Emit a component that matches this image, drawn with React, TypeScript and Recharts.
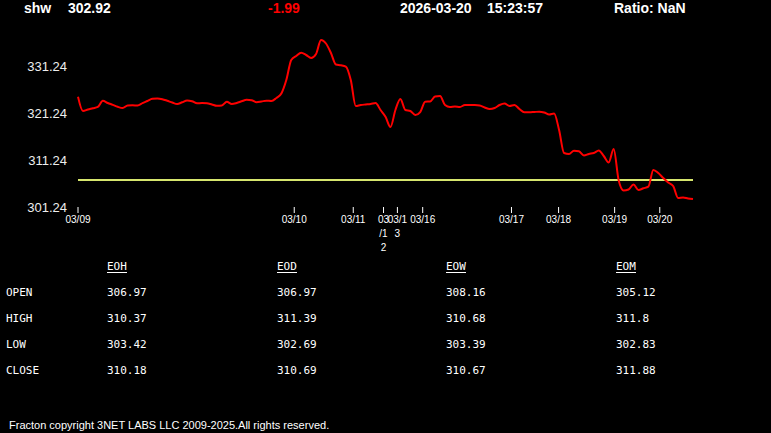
import React from 'react';
import { LineChart, Line, XAxis, YAxis, ReferenceLine } from 'recharts';

// last price, change, timestamp shown in the header
const symbol = 'shw';
const lastPrice = '302.92';
const change = '-1.99';
const stamp = ['2026-03-20', '15:23:57'];
const ratio = 'Ratio: NaN';

// intraday prices, one sample per step (trading days 03/09 .. 03/20)
const prices = [
  324.71, 321.67, 321.98, 322.24, 322.52, 323.84, 323.37, 322.98, 322.56, 322.3,
  322.84, 322.88, 322.84, 323.33, 323.79, 324.26, 324.33, 324.18, 323.84, 323.47,
  323.15, 323.52, 323.9, 323.73, 323.3, 323.37, 323.33, 323.05, 322.77, 322.84,
  323.62, 323.15, 323.37, 323.73, 324.05, 323.96, 323.54, 323.69, 323.86, 323.79,
  324.43, 325.39, 328.26, 332.52, 333.37, 334.07, 333.58, 332.94, 333.79, 336.77,
  336.03, 334.01, 331.56, 331.41, 331.13, 328.26, 322.73, 322.94, 323.05, 323.15,
  323.37, 321.88, 320.45, 318.26, 321.88, 324.22, 321.88, 321.67, 320.81, 321.45,
  323.64, 323.69, 324.75, 324.86, 322.94, 322.52, 322.62, 322.52, 322.94, 322.94,
  322.94, 322.84, 322.41, 322.09, 322.3, 322.94, 323.26, 322.73, 322.94, 322.09,
  321.39, 321.39, 321.45, 321.52, 321.35, 320.92, 321.13, 317.62, 312.73, 312.52,
  313.22, 313.09, 312.2, 312.52, 312.73, 313.26, 312.09, 310.71, 313.58, 306.98,
  304.75, 304.96, 306.03, 304.86, 305.22, 305.56, 309.11, 308.47, 307.41, 306.45,
  305.71, 303.15, 303.26, 303.05, 302.92,
];

// where each trading day opens, in sample units, and its (wrapped) label
const dayTicks = [0, 43.6, 55.5, 61.6, 64.4, 69.5, 87.4, 96.9, 108.2, 117.3];
const dayLabels = [
  ['03/09'], ['03/10'], ['03/11'], ['03', '/1', '2'], ['03/1', '3'],
  ['03/16'], ['03/17'], ['03/18'], ['03/19'], ['03/20'],
];

const priceTicks = [301.24, 311.24, 321.24, 331.24];
const openLevel = 306.97;

const columns = ['EOH', 'EOD', 'EOW', 'EOM'];
const rowNames = ['OPEN', 'HIGH', 'LOW', 'CLOSE'];
const eoh = ['306.97', '310.37', '303.42', '310.18'];
const eod = ['306.97', '311.39', '302.69', '310.69'];
const eow = ['308.16', '310.68', '303.39', '310.67'];
const eom = ['305.12', '311.8', '302.83', '311.88'];
const columnValues = [eoh, eod, eow, eom];

const data = prices.map((p, i) => ({ i, price: p }));

const DayTick = (props: any) => {
  const { x, y, payload } = props;
  const lines = dayLabels[dayTicks.indexOf(payload.value)] || [];
  return (
    <text x={x} y={y} textAnchor="middle" fill="#fff" fontSize={10} fontFamily="Liberation Sans, Arial, sans-serif">
      {lines.map((l, k) => (
        <tspan key={k} x={x} dy={k === 0 ? 8 : 14}>{l}</tspan>
      ))}
    </text>
  );
};

const headStyle: React.CSSProperties = {
  position: 'absolute',
  top: 0,
  fontFamily: 'Liberation Sans, Arial, sans-serif',
  fontWeight: 'bold',
  fontSize: 14,
  lineHeight: '16px',
  color: '#fff',
  whiteSpace: 'nowrap',
};

const mono: React.CSSProperties = {
  position: 'absolute',
  fontFamily: 'DejaVu Sans Mono, monospace',
  fontSize: 11,
  lineHeight: '12px',
  color: '#fff',
  whiteSpace: 'nowrap',
};

const colX = [107, 277, 446, 616];
const rowY = [287, 313, 339, 365];

export default function App() {
  return (
    <div style={{ position: 'absolute', left: 0, top: 0, width: 771, height: 433, background: '#000', overflow: 'hidden' }}>
      <div style={{ ...headStyle, left: 24 }}>{symbol}</div>
      <div style={{ ...headStyle, left: 68 }}>{lastPrice}</div>
      <div style={{ ...headStyle, left: 268, color: '#f00' }}>{change}</div>
      <div style={{ ...headStyle, left: 400 }}>{stamp[0]}</div>
      <div style={{ ...headStyle, left: 487 }}>{stamp[1]}</div>
      <div style={{ ...headStyle, left: 614 }}>{ratio}</div>

      <div style={{ position: 'absolute', left: 0, top: 0 }}>
        <LineChart width={771} height={260} data={data} margin={{ top: 19, right: 78, bottom: 13, left: 0 }}>
          <XAxis
            dataKey="i"
            type="number"
            domain={[0, prices.length - 1]}
            ticks={dayTicks}
            interval={0}
            axisLine={false}
            tickLine={{ stroke: '#fff' }}
            tickSize={6}
            tickMargin={2}
            height={40}
            tick={<DayTick />}
          />
          <YAxis
            type="number"
            domain={[301.24, 341.24]}
            ticks={priceTicks}
            interval={0}
            width={78}
            axisLine={false}
            tickLine={false}
            tickSize={0}
            tickMargin={11}
            tick={{ fill: '#eee', fontSize: 13, fontFamily: 'Liberation Sans, Arial, sans-serif' }}
          />
          <ReferenceLine y={openLevel} stroke="#d6e66e" strokeWidth={2} />
          <Line
            type="monotone"
            dataKey="price"
            stroke="#ff0000"
            strokeWidth={2}
            dot={false}
            isAnimationActive={false}
          />
        </LineChart>
      </div>

      {columns.map((c, k) => (
        <div key={c} style={{ ...mono, left: colX[k], top: 261, lineHeight: '11px', borderBottom: '1px solid #fff' }}>{c}</div>
      ))}
      {rowNames.map((r, j) => (
        <div key={r} style={{ ...mono, left: 6, top: rowY[j] }}>{r}</div>
      ))}
      {columnValues.map((vals, k) =>
        vals.map((v, j) => (
          <div key={k + '-' + j} style={{ ...mono, left: colX[k], top: rowY[j] }}>{v}</div>
        ))
      )}

      <div style={{ position: 'absolute', left: 9, top: 418, fontFamily: 'Liberation Sans, Arial, sans-serif', fontSize: 11, lineHeight: '14px', color: '#fff', whiteSpace: 'nowrap' }}>
        Fracton copyright 3NET LABS LLC 2009-2025.All rights reserved.
      </div>
    </div>
  );
}
